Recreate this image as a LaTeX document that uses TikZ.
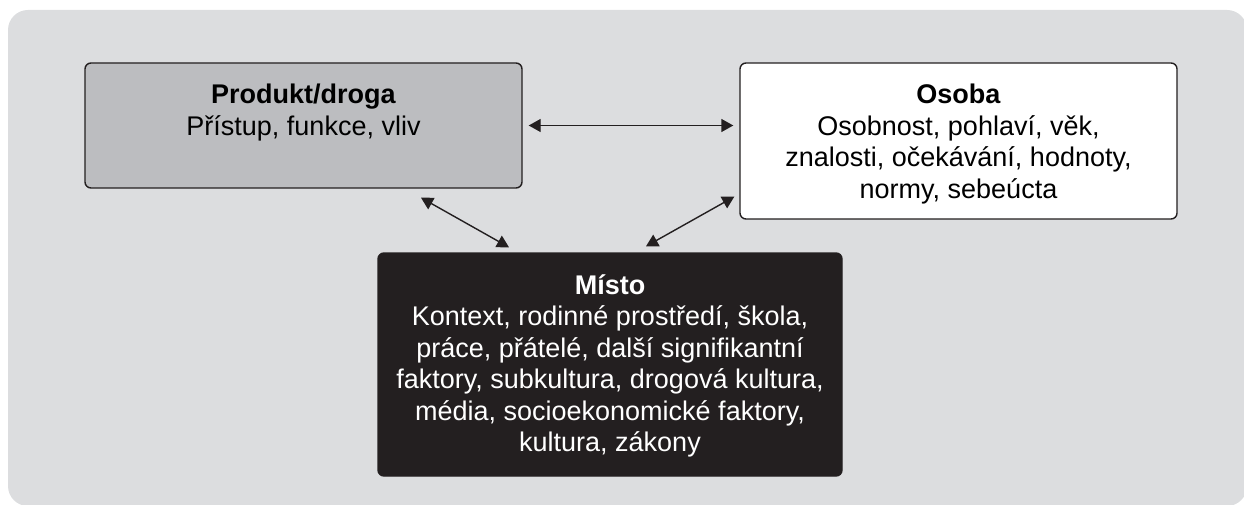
\documentclass[tikz,border=0pt]{standalone}
\usepackage{fontspec}
\setmainfont{Liberation Sans}
\usetikzlibrary{arrows.meta}

\definecolor{bggray}{HTML}{DCDDDF}
\definecolor{boxgray}{HTML}{BCBDC0}
\definecolor{ink}{HTML}{231F20}

% box contents: height, width, lines (first baseline fixed below the top)
\newcommand{\factortext}[3]{\parbox[c][#1][t]{#2}{\centering\rule{0pt}{41pt}#3}}

\begin{document}
\begin{tikzpicture}[
        x=1pt, y=1pt,
        factor/.style={draw=ink, line width=1.4pt, rounded corners=6pt, inner sep=0pt,
            font=\fontsize{27}{31.5}\selectfont},
        link/.style={ink, line width=1.4pt,
            {Triangle[length=12pt,width=13pt]}-{Triangle[length=12pt,width=13pt]}}
    ]
        \useasboundingbox (0,0) rectangle (1244,504);
        \clip (0,0) rectangle (1244,504);
        \fill[bggray, rounded corners=20pt] (8,-2) rectangle (1247,494);

        \node[factor, fill=boxgray] (produkt) at (303.5,378.5)
            {\factortext{125pt}{437pt}{\textbf{Produkt/droga}\\Přístup, funkce, vliv}};
        \node[factor, fill=white] (osoba) at (958.5,363)
            {\factortext{156pt}{437pt}{\textbf{Osoba}\\Osobnost, pohlaví, věk,\\znalosti, očekávání, hodnoty,\\normy, sebeúcta}};
        \node[factor, fill=ink, text=white] (misto) at (610,139.5)
            {\factortext{223pt}{464pt}{\textbf{Místo}\\Kontext, rodinné prostředí, škola,\\práce, přátelé, další signifikantní\\faktory, subkultura, drogová kultura,\\média, socioekonomické faktory,\\kultura, zákony}};

        \draw[link, shorten <=6pt, shorten >=6pt] (produkt.east) -- (produkt.east -| osoba.west);
        \draw[link] ([xshift=117.5pt,yshift=-9pt]produkt.south) -- ([xshift=-101pt,yshift=5pt]misto.north);
        \draw[link] ([xshift=-5pt,yshift=23pt]osoba.south west) -- ([xshift=36pt,yshift=6pt]misto.north);
    \end{tikzpicture}
\end{document}
